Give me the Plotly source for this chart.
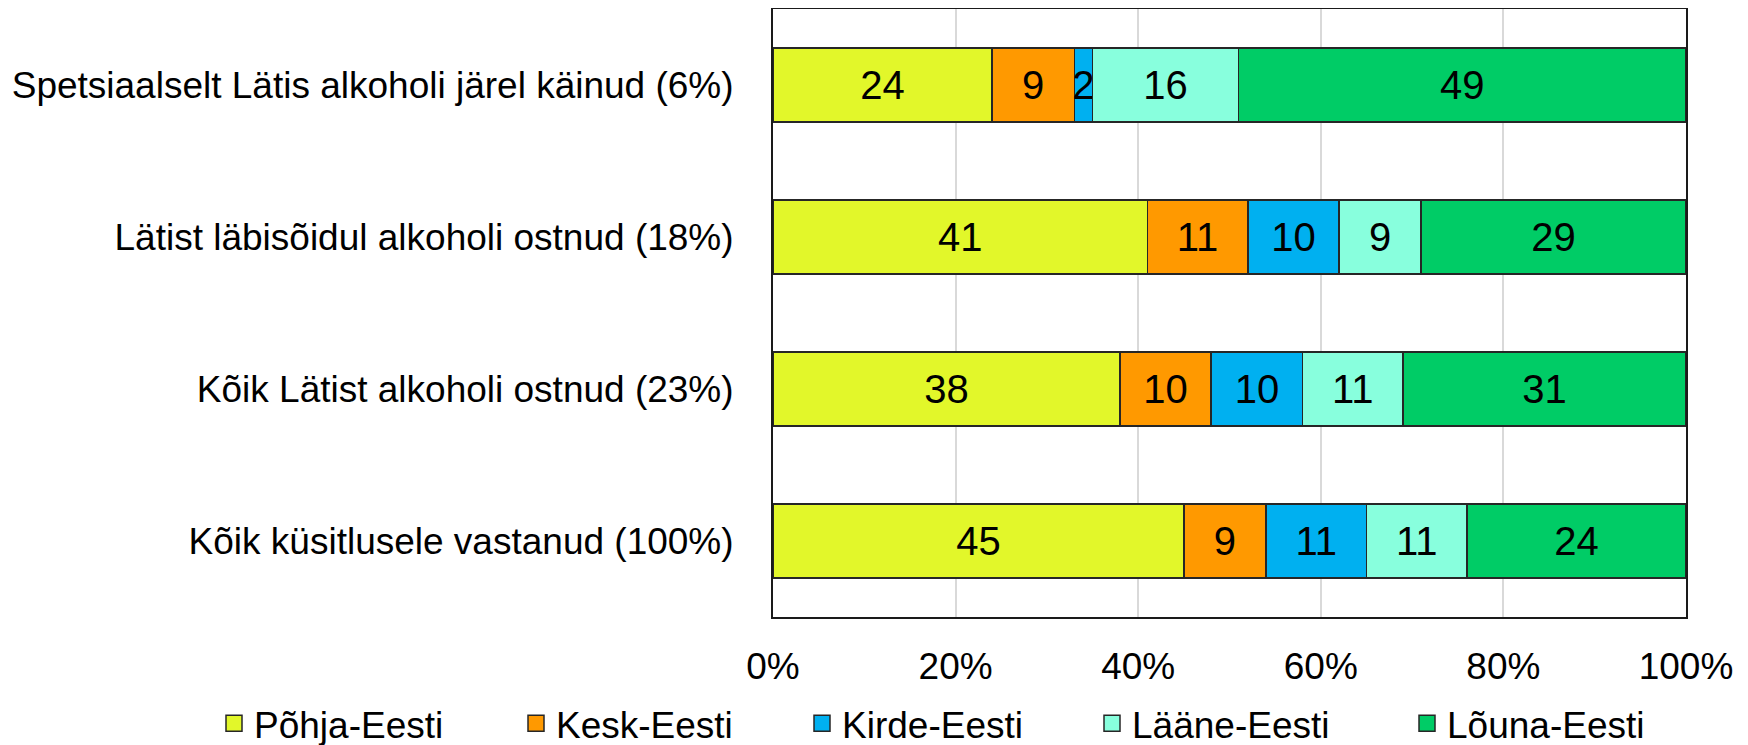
import plotly.graph_objects as go

categories = [
    "Spetsiaalselt Lätis alkoholi järel käinud (6%)",
    "Lätist läbisõidul alkoholi ostnud (18%)",
    "Kõik Lätist alkoholi ostnud (23%)",
    "Kõik küsitlusele vastanud (100%)",
]
series_names = ["Põhja-Eesti", "Kesk-Eesti", "Kirde-Eesti", "Lääne-Eesti", "Lõuna-Eesti"]
pohja = [24, 41, 38, 45]
kesk = [9, 11, 10, 9]
kirde = [2, 10, 10, 11]
laane = [16, 9, 11, 11]
louna = [49, 29, 31, 24]
x_ticks = [0, 20, 40, 60, 80, 100]

colors = ["#E2F72A", "#FF9900", "#00B0F0", "#88FFDD", "#00CC66"]
FONT = "Liberation Sans, Arial, sans-serif"
FS = 37
FS_BAR = 40
W, H = 1740, 737  # page body has an 8px margin
legend_text_starts = [259, 561, 847, 1137, 1452]  # screen px

fig = go.Figure()
for i, (name, vals, col) in enumerate(zip(series_names, [pohja, kesk, kirde, laane, louna], colors)):
    lg = "legend" if i == 0 else f"legend{i + 1}"
    fig.add_trace(go.Bar(
        y=categories, x=vals, name=name, orientation="h",
        marker=dict(color=col, line=dict(color="#262626", width=1.5)),
        text=[str(v) for v in vals], textposition="inside",
        insidetextanchor="middle",
        textfont=dict(family=FONT, size=FS_BAR, color="black"),
        hoverinfo="skip", showlegend=False,
    ))
    fig.add_trace(go.Scatter(
        x=[None], y=[None], mode="markers", name=name, legend=lg,
        marker=dict(symbol="square", size=16, color=col,
                    line=dict(color="#262626", width=1.5)),
        hoverinfo="skip", showlegend=True,
    ))

layout_legends = {}
for i, ts in enumerate(legend_text_starts):
    key = "legend" if i == 0 else f"legend{i + 1}"
    layout_legends[key] = dict(
        xref="container", yref="container",
        x=(ts - 53) / W, xanchor="left", y=0.029, yanchor="middle",
        font=dict(family=FONT, size=FS, color="black"),
        bgcolor="rgba(0,0,0,0)", itemclick=False, itemdoubleclick=False,
        orientation="h",
    )

fig.update_layout(
    barmode="stack",
    bargap=0.51,
    width=W, height=H,
    margin=dict(l=765, r=62, t=1, b=128, autoexpand=False),
    paper_bgcolor="white", plot_bgcolor="white",
    font=dict(family=FONT, size=FS, color="black"),
    uniformtext=dict(minsize=FS_BAR, mode="show"),
    showlegend=True,
    **layout_legends,
)
fig.update_xaxes(
    range=[0, 100], tickvals=x_ticks, ticktext=[f"{v}%" for v in x_ticks],
    showgrid=True, gridcolor="#D9D9D9", gridwidth=1.5,
    showline=True, linecolor="#1a1a1a", linewidth=2, mirror=True,
    ticks="", ticklabelstandoff=16, zeroline=False, automargin=False,
    tickfont=dict(family=FONT, size=FS, color="black"),
)
fig.update_yaxes(
    categoryorder="array", categoryarray=categories, autorange="reversed",
    showline=True, linecolor="#1a1a1a", linewidth=2, mirror=True,
    ticks="", ticklabelstandoff=30, showgrid=False, automargin=False,
    tickfont=dict(family=FONT, size=FS, color="black"),
)
fig.add_annotation(text="1", xref="paper", yref="paper", x=1.057, y=-0.19,
                   xanchor="left", yanchor="top", showarrow=False,
                   font=dict(family=FONT, size=FS, color="black"))

fig.write_html("out.html")
